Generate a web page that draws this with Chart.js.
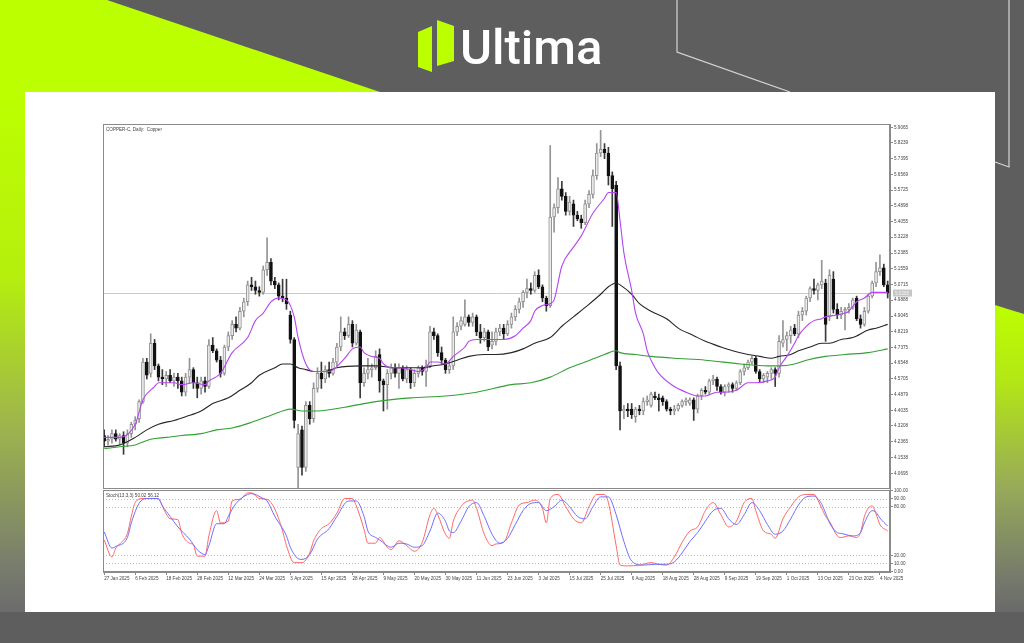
<!DOCTYPE html>
<html>
<head>
<meta charset="utf-8">
<title>COPPER-C Daily</title>
<script src="https://cdn.jsdelivr.net/npm/chart.js@4.4.1/dist/chart.umd.min.js"></script>
<style>
  html, body { margin:0; padding:0; }
  body { width:1024px; height:643px; overflow:hidden; position:relative; background:#5e5e5e; }
  #bg { position:absolute; left:0; top:0; }
  #brand { position:absolute; left:460px; top:23px; font-family:Roboto, 'Open Sans', sans-serif; font-weight:500; font-size:49px; line-height:49px; color:#ffffff; }
  canvas { position:absolute; left:0; top:0; }
</style>
</head>
<body>
<svg id="bg" width="1024" height="643" viewBox="0 0 1024 643" xmlns="http://www.w3.org/2000/svg">
  <defs>
    <linearGradient id="gLeft" x1="0" y1="0" x2="0" y2="1">
      <stop offset="0" stop-color="#bcff00"/>
      <stop offset="0.35" stop-color="#b5ef0d"/>
      <stop offset="0.65" stop-color="#9db34e"/>
      <stop offset="0.9" stop-color="#7a7f6c"/>
      <stop offset="1" stop-color="#6c6c6c"/>
    </linearGradient>
    <linearGradient id="gRight" x1="0" y1="0" x2="0" y2="1">
      <stop offset="0" stop-color="#bcff00"/>
      <stop offset="0.25" stop-color="#b3e616"/>
      <stop offset="0.6" stop-color="#97a95a"/>
      <stop offset="0.9" stop-color="#74786c"/>
      <stop offset="1" stop-color="#6a6a6a"/>
    </linearGradient>
  </defs>
  <rect x="0" y="0" width="1024" height="643" fill="#5e5e5e"/>
  <polygon points="0,0 107,0 380,92 0,92" fill="#bcff00"/>
  <rect x="0" y="92" width="25" height="520" fill="url(#gLeft)"/>
  <polygon points="995,305 1024,314 1024,612 995,612" fill="url(#gRight)"/>
  <polyline points="677,0 677,52 790,92" fill="none" stroke="#d6d6d6" stroke-width="1.2"/>
  <polyline points="1009,0 1009,167 995,162" fill="none" stroke="#d6d6d6" stroke-width="1.2"/>
  <rect x="25" y="92" width="970" height="520" fill="#ffffff"/>
  <polygon points="418,32 432,26 432,72 418,67" fill="#bcff00"/>
  <polygon points="437,20 454,26 454,61 437,66" fill="#bcff00"/>
</svg>
<div id="brand">Ultima</div>
<canvas id="main" width="1024" height="643"></canvas>
<canvas id="stoch" width="1024" height="643"></canvas>
<script>
// ---------------- DATA ----------------
const chartTitle = 'COPPER-C, Daily:  Copper';
const stochTitle = 'Stoch(13,3,3) 50.02 56.12';

// date labels, one every 8 bars
const dateLabels = ['27 Jan 2025','6 Feb 2025','18 Feb 2025','28 Feb 2025','12 Mar 2025','24 Mar 2025','3 Apr 2025','15 Apr 2025','28 Apr 2025','9 May 2025','20 May 2025','30 May 2025','11 Jun 2025','23 Jun 2025','3 Jul 2025','15 Jul 2025','25 Jul 2025','6 Aug 2025','18 Aug 2025','28 Aug 2025','9 Sep 2025','19 Sep 2025','1 Oct 2025','13 Oct 2025','23 Oct 2025','4 Nov 2025'];
const labelStep = 8;

const opens = [4.27,4.24,4.25,4.28,4.25,4.27,4.23,4.28,4.33,4.36,
4.45,4.66,4.60,4.76,4.64,4.58,4.57,4.59,4.56,4.58,
4.56,4.50,4.58,4.62,4.55,4.52,4.56,4.53,4.75,4.72,
4.67,4.60,4.74,4.80,4.86,4.84,4.93,4.98,5.07,5.06,
5.04,5.03,5.15,5.19,5.09,5.07,5.01,5.00,4.91,4.78,
4.10,4.30,4.10,4.43,4.36,4.52,4.60,4.57,4.62,4.60,
4.66,4.74,4.82,4.80,4.86,4.76,4.82,4.55,4.60,4.62,
4.63,4.70,4.56,4.54,4.60,4.63,4.60,4.63,4.57,4.62,
4.55,4.60,4.63,4.61,4.64,4.82,4.80,4.71,4.67,4.62,
4.64,4.82,4.85,4.86,4.90,4.87,4.90,4.82,4.79,4.82,
4.75,4.77,4.82,4.84,4.81,4.86,4.90,4.94,4.98,5.03,
5.05,5.04,5.12,5.06,5.00,4.96,5.43,5.48,5.58,5.54,
5.46,5.50,5.44,5.42,5.40,5.50,5.55,5.65,5.77,5.79,
5.77,5.65,5.60,4.64,4.40,4.41,4.41,4.37,4.41,4.40,
4.45,4.43,4.48,4.47,4.47,4.45,4.41,4.40,4.41,4.43,
4.45,4.44,4.46,4.41,4.48,4.51,4.50,4.56,4.57,4.53,
4.50,4.53,4.54,4.52,4.55,4.61,4.63,4.66,4.68,4.61,
4.57,4.58,4.60,4.62,4.60,4.76,4.78,4.80,4.84,4.81,
4.91,4.93,5.00,5.05,5.04,5.07,5.08,4.90,5.10,4.94,
4.91,4.93,4.94,4.95,5.00,4.89,4.86,4.93,5.01,5.08,
5.14,5.16,5.07];

const highs = [4.30,4.27,4.30,4.30,4.28,4.29,4.30,4.34,4.37,4.46,
4.68,4.68,4.81,4.78,4.65,4.62,4.61,4.62,4.60,4.60,
4.58,4.60,4.68,4.63,4.58,4.58,4.58,4.78,4.79,4.73,
4.69,4.75,4.82,4.88,4.90,4.95,5.00,5.09,5.11,5.09,
5.06,5.17,5.32,5.21,5.11,5.08,5.10,5.10,4.93,4.79,
4.33,4.32,4.45,4.45,4.55,4.63,4.66,4.64,4.66,4.68,
4.76,4.90,4.84,4.90,4.88,4.86,4.83,4.63,4.68,4.65,
4.72,4.73,4.57,4.62,4.65,4.65,4.65,4.64,4.64,4.63,
4.62,4.64,4.64,4.67,4.85,4.84,4.81,4.74,4.68,4.66,
4.90,4.87,4.90,4.99,4.91,4.92,4.91,4.86,4.84,4.83,
4.82,4.84,4.86,4.86,4.88,4.92,4.96,5.00,5.04,5.10,
5.08,5.14,5.15,5.07,5.01,5.81,5.50,5.64,5.62,5.56,
5.54,5.52,5.46,5.44,5.52,5.57,5.68,5.82,5.89,5.82,
5.80,5.67,5.62,4.66,4.43,4.44,4.44,4.42,4.43,4.47,
4.48,4.50,4.50,4.49,4.48,4.46,4.42,4.43,4.44,4.46,
4.47,4.47,4.47,4.49,4.52,4.53,4.57,4.59,4.58,4.54,
4.54,4.55,4.55,4.56,4.62,4.65,4.67,4.69,4.69,4.62,
4.60,4.61,4.63,4.63,4.80,4.88,4.82,4.85,4.86,4.93,
4.95,5.01,5.06,5.10,5.08,5.20,5.10,5.15,5.14,4.97,
4.95,4.95,4.97,5.00,5.01,4.91,4.95,5.02,5.09,5.19,
5.23,5.18,5.09];

const lows = [4.21,4.22,4.23,4.24,4.22,4.17,4.21,4.26,4.30,4.34,
4.44,4.57,4.58,4.62,4.56,4.54,4.53,4.55,4.53,4.52,
4.48,4.48,4.55,4.52,4.47,4.49,4.50,4.52,4.71,4.66,
4.58,4.59,4.72,4.78,4.82,4.83,4.90,4.96,5.04,5.02,
5.01,5.02,5.12,5.07,5.05,4.99,4.98,4.94,4.76,4.31,
3.99,4.06,4.08,4.33,4.34,4.50,4.52,4.55,4.58,4.59,
4.64,4.72,4.78,4.79,4.74,4.75,4.47,4.53,4.57,4.58,
4.62,4.50,4.40,4.41,4.57,4.58,4.52,4.56,4.55,4.52,
4.53,4.58,4.59,4.53,4.63,4.78,4.69,4.65,4.60,4.60,
4.62,4.80,4.83,4.85,4.85,4.85,4.80,4.76,4.77,4.72,
4.73,4.75,4.80,4.78,4.80,4.84,4.88,4.92,4.95,5.00,
5.02,5.03,5.05,4.98,4.93,4.95,5.35,5.45,5.52,5.44,
5.44,5.38,5.41,5.37,5.39,5.48,5.53,5.63,5.75,5.74,
5.60,5.38,4.62,4.30,4.36,4.37,4.36,4.34,4.38,4.38,
4.43,4.42,4.46,4.40,4.43,4.40,4.38,4.38,4.40,4.42,
4.43,4.43,4.35,4.39,4.46,4.49,4.49,4.54,4.51,4.49,
4.48,4.50,4.50,4.51,4.54,4.59,4.62,4.65,4.60,4.55,
4.55,4.55,4.57,4.53,4.58,4.74,4.72,4.76,4.80,4.79,
4.88,4.91,4.98,5.02,4.99,5.05,4.77,4.88,4.92,4.89,
4.89,4.83,4.92,4.94,4.88,4.84,4.85,4.92,5.00,5.06,
5.12,5.06,5.00];

const closes = [4.24,4.25,4.28,4.25,4.27,4.23,4.28,4.33,4.35,4.45,
4.66,4.59,4.76,4.64,4.58,4.57,4.59,4.56,4.58,4.56,
4.50,4.58,4.62,4.55,4.52,4.56,4.53,4.75,4.72,4.67,
4.60,4.74,4.80,4.86,4.84,4.93,4.98,5.07,5.06,5.04,
5.03,5.15,5.19,5.09,5.07,5.01,5.00,4.97,4.78,4.35,
4.28,4.10,4.43,4.36,4.52,4.60,4.57,4.62,4.60,4.66,
4.74,4.82,4.80,4.86,4.76,4.83,4.55,4.60,4.62,4.63,
4.69,4.56,4.54,4.60,4.63,4.60,4.63,4.57,4.62,4.55,
4.60,4.63,4.61,4.64,4.82,4.80,4.71,4.67,4.62,4.64,
4.82,4.85,4.88,4.90,4.87,4.90,4.82,4.79,4.82,4.74,
4.77,4.82,4.84,4.81,4.86,4.90,4.94,4.98,5.03,5.05,
5.04,5.12,5.06,5.00,4.96,5.43,5.48,5.58,5.54,5.46,
5.51,5.44,5.42,5.40,5.50,5.55,5.65,5.77,5.79,5.77,
5.65,5.58,4.64,4.40,4.41,4.40,4.38,4.41,4.40,4.45,
4.46,4.49,4.47,4.46,4.45,4.41,4.40,4.41,4.43,4.45,
4.46,4.46,4.41,4.48,4.51,4.50,4.56,4.57,4.53,4.50,
4.53,4.54,4.52,4.55,4.61,4.63,4.66,4.68,4.61,4.57,
4.59,4.60,4.62,4.60,4.77,4.78,4.80,4.83,4.81,4.91,
4.93,5.00,5.05,5.04,5.07,5.09,4.86,5.12,4.94,4.91,
4.93,4.94,4.95,4.99,4.89,4.86,4.93,5.01,5.08,5.14,
5.16,5.07,5.0265];

const currentPrice = 5.0265;

const priceTicks = [5.9065,5.8239,5.7395,5.6569,5.5725,5.4898,5.4055,5.3228,5.2385,5.1559,5.0715,4.9888,4.9045,4.8219,4.7375,4.6548,4.5705,4.4879,4.4035,4.3208,4.2365,4.1538,4.0695];

// moving averages (bar index, value)
const fastMaIdx = [0,4,8,10,13,14,18,20,23,26,27,30,33,37,39,41,43,45,47,49,50,52,54,58,62,64,66,67,69,71,72,74,76,79,81,83,84,86,88,90,93,94,96,100,103,106,108,110,111,113,115,116,118,121,123,126,129,130,132,133,134,136,137,139,140,141,143,147,150,153,155,158,160,163,166,168,171,173,174,176,178,179,181,183,185,186,189,191,192,194,196,198,199,202];
const fastMaVal = [4.26,4.26,4.33,4.46,4.53,4.55,4.55,4.54,4.55,4.54,4.56,4.60,4.71,4.79,4.88,4.92,4.98,5.00,4.99,4.90,4.79,4.65,4.61,4.61,4.68,4.73,4.74,4.71,4.69,4.68,4.65,4.63,4.63,4.62,4.61,4.63,4.66,4.66,4.65,4.69,4.74,4.77,4.78,4.78,4.78,4.80,4.84,4.88,4.93,4.96,4.97,4.99,5.17,5.27,5.33,5.45,5.53,5.56,5.56,5.41,5.24,5.04,4.92,4.81,4.72,4.67,4.60,4.53,4.50,4.48,4.48,4.50,4.50,4.51,4.55,4.55,4.56,4.58,4.63,4.69,4.76,4.80,4.85,4.88,4.89,4.90,4.91,4.92,4.93,4.98,5.00,5.03,5.03,5.03];

const slowMaIdx = [0,4,8,11,14,18,21,25,28,32,35,38,40,44,46,48,50,52,54,57,60,66,70,75,79,82,85,88,91,94,98,101,105,108,111,115,118,121,124,128,130,132,133,136,138,141,145,148,152,155,159,162,166,169,172,174,177,179,182,185,187,190,193,197,199,202];
const slowMaVal = [4.21,4.22,4.26,4.30,4.33,4.35,4.37,4.40,4.44,4.47,4.51,4.55,4.59,4.63,4.65,4.65,4.63,4.62,4.61,4.61,4.63,4.64,4.64,4.63,4.63,4.63,4.64,4.65,4.67,4.69,4.70,4.70,4.71,4.73,4.76,4.79,4.85,4.90,4.95,5.02,5.06,5.08,5.07,5.02,4.97,4.93,4.89,4.84,4.80,4.77,4.74,4.72,4.70,4.69,4.68,4.69,4.70,4.72,4.74,4.76,4.76,4.78,4.79,4.83,4.84,4.86];

const longMaIdx = [0,4,8,12,16,20,25,29,33,38,42,46,48,51,55,62,70,79,88,96,105,110,115,120,124,129,132,133,137,141,147,155,164,171,174,178,181,186,191,197,202];
const longMaVal = [4.20,4.21,4.22,4.25,4.26,4.27,4.28,4.30,4.31,4.34,4.37,4.40,4.41,4.40,4.40,4.42,4.45,4.47,4.48,4.50,4.54,4.55,4.58,4.63,4.66,4.70,4.72,4.71,4.70,4.69,4.68,4.67,4.65,4.64,4.64,4.65,4.67,4.69,4.70,4.71,4.73];

// stochastic %K (red) and signal (blue)
const stochKIdx = [0,2,3,4,6,7,8,10,13,14,16,17,19,20,22,23,24,26,27,29,30,32,33,35,37,38,40,42,44,46,47,49,51,53,54,56,58,60,62,64,65,67,68,70,71,73,74,76,78,80,82,84,85,86,88,89,90,92,93,95,96,98,100,101,103,105,107,109,111,113,114,115,117,119,121,123,125,127,129,130,132,133,135,138,141,143,145,147,149,151,153,155,157,159,161,163,165,167,168,170,172,173,175,177,179,181,183,184,185,186,187,189,190,192,194,195,196,197,198,199,200,202];
const stochKVal = [39,18,29,34,47,68,85,90,90,89, 71,65,64,47,35,33,19,19,44,75, 60,62,87,89,97,97,90,89,77,50, 32,11,11,23,38,53,59,72,90,90, 81,52,35,35,42,30,27,38,32,25, 36,70,78,70,46,41,62,80,85,88, 78,46,32,34,36,60,82,85,88,78, 60,90,95,80,65,60,80,95,95,85, 32,8,7,8,11,9,8,18,36,50, 55,75,85,70,55,62,85,90,75,50, 46,41,65,80,92,95,95,88,78,68, 62,44,42,44,42,48,68,78,81,71, 58,50];
const stochDIdx = [0,2,3,6,7,9,11,14,15,17,19,22,24,26,27,29,31,32,34,37,38,41,42,44,47,48,50,51,53,55,58,60,63,65,67,68,70,71,74,76,78,80,82,84,86,88,89,90,92,94,96,98,100,102,104,106,108,110,112,114,116,118,120,122,124,126,128,130,132,134,136,139,142,145,147,149,151,153,155,157,159,161,163,165,167,169,171,173,175,177,179,181,183,184,185,186,187,189,190,193,195,196,198,199,200,202];
const stochDVal = [49,29,31,42,60,84,90,90,81,68, 55,40,27,21,32,59,59,68,84,95, 96,90,87,68,44,30,16,15,21,40, 53,68,87,87,68,50,42,39,30,35, 34,30,32,50,72,62,50,48,62,80, 85,68,46,35,41,58,75,84,85,75, 80,88,80,68,65,80,92,92,70,37, 13,8,9,9,12,23,37,48,62,75, 78,65,58,70,85,75,58,46,50,65, 82,92,93,90,83,72,60,48,47,44, 48,60,75,73,66,56];
const stochLevels = [90, 80, 20, 10];
const stochTicks = [100, 90, 80, 20, 10, 0];

// ---------------- LAYOUT / STYLE ----------------
const W = 1024, H = 643;
const PLOT_L = 103, PLOT_R = 890, MAIN_T = 124, MAIN_B = 489, ST_T = 490, ST_B = 572;
const AXIS_W = 45, XAXIS_H = 12;
const X_MIN = -0.3, X_MAX = 202.6;
const PRICE_MIN = 3.986, PRICE_MAX = 5.924;
const FONT = "'Liberation Sans', Arial, sans-serif";
const TXT = '#444444';
const FRAME = '#8a8a8a';

Chart.defaults.font.family = FONT;
Chart.defaults.animation = false;
Chart.defaults.plugins.legend.display = false;
Chart.defaults.plugins.tooltip.enabled = false;

const isUp = i => closes[i] >= opens[i];
const pts = (idx, val) => idx.map((x, k) => ({ x: x, y: val[k] }));

const framePlugin = {
  id: 'frame',
  afterDatasetsDraw(chart) {
    const { ctx, chartArea: a } = chart;
    ctx.save();
    ctx.strokeStyle = FRAME; ctx.lineWidth = 1;
    ctx.strokeRect(Math.round(a.left) + 0.5, Math.round(a.top) + 0.5, Math.round(a.right - a.left) - 1, Math.round(a.bottom - a.top) - 1);
    ctx.restore();
  }
};

const mainDecor = {
  id: 'mainDecor',
  beforeDatasetsDraw(chart) {
    const { ctx, chartArea: a, scales: { y } } = chart;
    const py = Math.round(y.getPixelForValue(currentPrice)) + 0.5;
    ctx.save();
    ctx.strokeStyle = '#c9c9c9'; ctx.lineWidth = 1;
    ctx.beginPath(); ctx.moveTo(a.left, py); ctx.lineTo(a.right, py); ctx.stroke();
    ctx.restore();
  },
  afterDraw(chart) {
    const { ctx, chartArea: a, scales: { y } } = chart;
    ctx.save();
    ctx.font = '4.6px ' + FONT;
    ctx.fillStyle = TXT; ctx.textBaseline = 'top'; ctx.textAlign = 'left';
    ctx.fillText(chartTitle, a.left + 3, a.top + 3);
    const py = y.getPixelForValue(currentPrice);
    ctx.fillStyle = '#c6c6c6';
    ctx.fillRect(a.right + 3, py - 3.5, 19, 7);
    ctx.fillStyle = '#f4f4f4'; ctx.textBaseline = 'middle';
    ctx.fillText(currentPrice.toFixed(4), a.right + 5, py + 0.3);
    ctx.restore();
  }
};

const stochDecor = {
  id: 'stochDecor',
  beforeDatasetsDraw(chart) {
    const { ctx, chartArea: a, scales: { y } } = chart;
    ctx.save();
    ctx.strokeStyle = '#c4bcbc'; ctx.lineWidth = 1; ctx.setLineDash([1, 2]);
    stochLevels.forEach(v => {
      const py = Math.round(y.getPixelForValue(v)) + 0.5;
      ctx.beginPath(); ctx.moveTo(a.left, py); ctx.lineTo(a.right, py); ctx.stroke();
    });
    ctx.restore();
  },
  afterDraw(chart) {
    const { ctx, chartArea: a } = chart;
    ctx.save();
    ctx.font = '4.6px ' + FONT;
    ctx.fillStyle = TXT; ctx.textBaseline = 'top'; ctx.textAlign = 'left';
    ctx.fillText(stochTitle, a.left + 3, a.top + 3);
    ctx.restore();
  }
};

const tickFont = { size: 4.6, family: FONT };

// ---------------- MAIN PRICE CHART ----------------
new Chart(document.getElementById('main'), {
  type: 'bar',
  data: {
    datasets: [
      {
        type: 'line', label: 'MA fast', data: pts(fastMaIdx, fastMaVal),
        borderColor: '#b445f0', borderWidth: 1.1, pointRadius: 0, cubicInterpolationMode: 'monotone', order: 0
      },
      {
        type: 'line', label: 'MA slow', data: pts(slowMaIdx, slowMaVal),
        borderColor: '#262626', borderWidth: 1.1, pointRadius: 0, cubicInterpolationMode: 'monotone', order: 0
      },
      {
        type: 'line', label: 'MA long', data: pts(longMaIdx, longMaVal),
        borderColor: '#33a033', borderWidth: 1.1, pointRadius: 0, cubicInterpolationMode: 'monotone', order: 0
      },
      {
        type: 'bar', label: 'body', grouped: false, barThickness: 3,
        data: opens.map((o, i) => ({ x: i, y: [o, closes[i]] })),
        backgroundColor: c => isUp(c.dataIndex) ? '#ececec' : '#121212',
        borderColor: c => isUp(c.dataIndex) ? '#929292' : '#121212',
        borderWidth: 1, borderSkipped: false, order: 1
      },
      {
        type: 'bar', label: 'wick', grouped: false, barThickness: 1,
        data: lows.map((l, i) => ({ x: i, y: [l, highs[i]] })),
        backgroundColor: c => isUp(c.dataIndex) ? '#949494' : '#3a3a3a',
        borderWidth: 0, order: 2
      }
    ]
  },
  options: {
    responsive: false,
    layout: { padding: { left: PLOT_L, top: MAIN_T, right: W - PLOT_R - AXIS_W, bottom: H - MAIN_B } },
    scales: {
      x: { type: 'linear', min: X_MIN, max: X_MAX, offset: false, display: false },
      y: {
        type: 'linear', position: 'right', min: PRICE_MIN, max: PRICE_MAX,
        afterBuildTicks: s => { s.ticks = priceTicks.map(v => ({ value: v })); },
        afterFit: s => { s.width = AXIS_W; },
        ticks: { font: tickFont, color: TXT, padding: 1, autoSkip: false, callback: v => Number(v).toFixed(4) },
        grid: { drawOnChartArea: false, drawTicks: true, tickLength: 3, color: FRAME },
        border: { display: true, color: FRAME }
      }
    }
  },
  plugins: [mainDecor, framePlugin]
});

// ---------------- STOCHASTIC CHART ----------------
new Chart(document.getElementById('stoch'), {
  type: 'line',
  data: {
    datasets: [
      { label: 'Signal', data: pts(stochDIdx, stochDVal), borderColor: '#6e6eff', borderWidth: 1, pointRadius: 0, cubicInterpolationMode: 'monotone' },
      { label: 'Main', data: pts(stochKIdx, stochKVal), borderColor: '#ff6666', borderWidth: 1, pointRadius: 0, cubicInterpolationMode: 'monotone' }
    ]
  },
  options: {
    responsive: false,
    layout: { padding: { left: PLOT_L, top: ST_T, right: W - PLOT_R - AXIS_W, bottom: H - ST_B - XAXIS_H } },
    scales: {
      x: {
        type: 'linear', min: X_MIN, max: X_MAX, offset: false,
        afterBuildTicks: s => { s.ticks = dateLabels.map((_, k) => ({ value: k * labelStep })); },
        afterFit: s => { s.height = XAXIS_H; },
        ticks: { font: tickFont, color: TXT, align: 'start', maxRotation: 0, minRotation: 0, autoSkip: false, padding: 1,
                 callback: (v, i) => dateLabels[i] },
        grid: { drawOnChartArea: false, drawTicks: true, tickLength: 3, color: FRAME },
        border: { display: true, color: FRAME }
      },
      y: {
        type: 'linear', position: 'right', min: -0.5, max: 100.5,
        afterBuildTicks: s => { s.ticks = stochTicks.map(v => ({ value: v })); },
        afterFit: s => { s.width = AXIS_W; },
        ticks: { font: tickFont, color: TXT, padding: 1, autoSkip: false, callback: v => Number(v).toFixed(2) },
        grid: { drawOnChartArea: false, drawTicks: true, tickLength: 3, color: FRAME },
        border: { display: true, color: FRAME }
      }
    }
  },
  plugins: [stochDecor, framePlugin]
});
</script>
</body>
</html>
